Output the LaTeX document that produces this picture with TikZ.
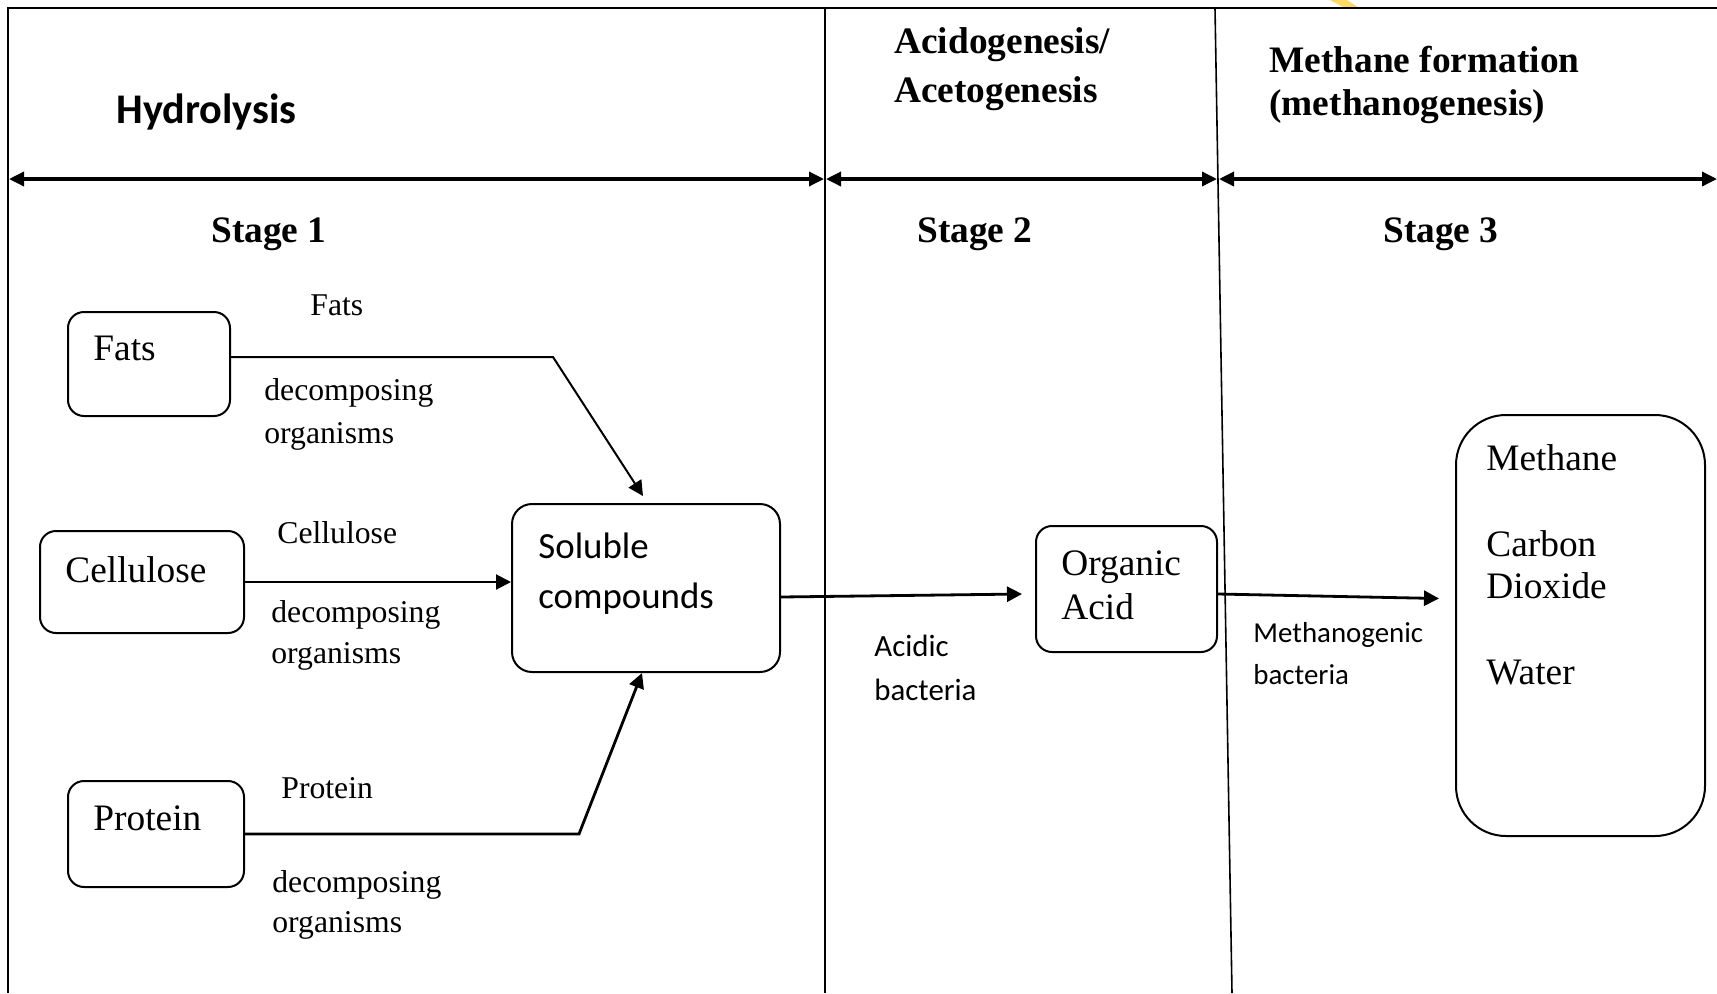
\documentclass[tikz,border=0pt]{standalone}
\usepackage{fontspec}
\setmainfont{Liberation Serif}
\newfontfamily\calfont{Carlito}
\usetikzlibrary{arrows.meta,fit}
\definecolor{wmyellow}{RGB}{255,217,102}
\begin{document}
\begin{tikzpicture}[x=0.5bp,y=-0.5bp,
  frame/.style={line width=0.8bp},
  dbl/.style={line width=1.7bp,{Triangle[length=7.5bp,width=7bp]}-{Triangle[length=7.5bp,width=7bp]}},
  conn/.style={line width=1bp,-{Triangle[length=7.5bp,width=7.5bp]}},
  boxs/.style={draw,line width=1bp,inner sep=0pt},
  headtxt/.style={font=\fontsize{18.75}{22}\selectfont\bfseries,anchor=base west,inner sep=0pt},
  hydtxt/.style={font=\calfont\fontsize{21.2}{24}\selectfont\bfseries,anchor=base west,inner sep=0pt},
  boxtxt/.style={font=\fontsize{18.75}{22}\selectfont,anchor=base west,inner sep=0pt},
  calbox/.style={font=\calfont\fontsize{18.5}{22}\selectfont,anchor=base west,inner sep=0pt},
  edgetxt/.style={font=\fontsize{15.9}{19}\selectfont,anchor=base west,inner sep=0pt},
  caledge/.style={font=\calfont\fontsize{15.5}{19}\selectfont,anchor=base west,inner sep=0pt},
  caledgesm/.style={font=\calfont\fontsize{14.5}{18}\selectfont,anchor=base west,inner sep=0pt}]
\useasboundingbox (0,0) rectangle (1717,993);

% watermark fragment
\fill[wmyellow] (1330,0) -- (1347,0) -- (1358,7) -- (1343,7) -- cycle;

% frame and dividers
\coordinate (tl) at (8,8);
\coordinate (tr) at (1717,8);
\coordinate (bl) at (8,993);
\coordinate (d1t) at (825,8);
\coordinate (d1b) at (825,993);
\coordinate (d2t) at (1215,8);
\coordinate (d2b) at (1232,993);
\draw[frame] (bl) -- (tl) -- (tr);
\draw[frame] (d1t) -- (d1b);
\draw[frame] (d2t) -- (d2b);

% stage arrows
\coordinate (a1l) at (9,179);
\coordinate (a1r) at (824,179);
\coordinate (a2l) at (826,179);
\coordinate (a2r) at (1217,179);
\coordinate (a3l) at (1219,179);
\coordinate (a3r) at (1717,179);
\draw[dbl] (a1l) -- (a1r);
\draw[dbl] (a2l) -- (a2r);
\draw[dbl] (a3l) -- (a3r);

% headings
\node[hydtxt] (hyd) at (116,123) {Hydrolysis};
\node[headtxt] (acid1) at (894,53) {Acidogenesis/};
\node[headtxt] (acid2) at (894,102) {Acetogenesis};
\node[headtxt] (meth1) at (1269,72) {Methane formation};
\node[headtxt] (meth2) at (1269,115) {(methanogenesis)};
\node[headtxt] (st1) at (211,242) {Stage 1};
\node[headtxt] (st2) at (917,242) {Stage 2};
\node[headtxt] (st3) at (1383,242) {Stage 3};

% boxes
\node[boxs,rounded corners=8bp,fit={(68,312) (230,416)}] (fats) {};
\node[boxs,rounded corners=8bp,fit={(40,531) (244,633)}] (cel) {};
\node[boxs,rounded corners=8bp,fit={(68,781) (244,887)}] (prot) {};
\node[boxs,rounded corners=10bp,fit={(512,504) (780,672)}] (sol) {};
\node[boxs,rounded corners=8bp,fit={(1036,526) (1217,652)}] (org) {};
\node[boxs,rounded corners=25bp,fit={(1456,415) (1705,836)}] (meth) {};

% box texts
\node[boxtxt] (tfats) at (93,360) {Fats};
\node[boxtxt] (tcel) at (65,582) {Cellulose};
\node[boxtxt] (tprot) at (93,830) {Protein};
\node[calbox] (tsol1) at (538,558) {Soluble};
\node[calbox] (tsol2) at (538,608) {compounds};
\node[boxtxt] (torg1) at (1061,575) {Organic};
\node[boxtxt] (torg2) at (1061,619) {Acid};
\node[boxtxt] (tm1) at (1486,470) {Methane};
\node[boxtxt] (tm2) at (1486,556) {Carbon};
\node[boxtxt] (tm3) at (1486,598) {Dioxide};
\node[boxtxt] (tm4) at (1486,684) {Water};

% edge labels
\node[edgetxt] (ef1) at (310,315) {Fats};
\node[edgetxt] (ef2) at (264,400) {decomposing};
\node[edgetxt] (ef3) at (264,443) {organisms};
\node[edgetxt] (ec1) at (277,543) {Cellulose};
\node[edgetxt] (ec2) at (271,622) {decomposing};
\node[edgetxt] (ec3) at (271,663) {organisms};
\node[edgetxt] (ep1) at (281,798) {Protein};
\node[edgetxt] (ep2) at (272,892) {decomposing};
\node[edgetxt] (ep3) at (272,932) {organisms};
\node[caledge] (ea1) at (874,656) {Acidic};
\node[caledge] (ea2) at (874,700) {bacteria};
\node[caledgesm] (em1) at (1253,642) {Methanogenic};
\node[caledgesm] (em2) at (1253,684) {bacteria};

% connectors
\draw[conn] ([yshift=3.5bp]fats.east) -- (553,357) -- ([xshift=-1.5bp,yshift=3.5bp]sol.north);
\draw[conn] (cel.east) -- (cel.east -| sol.west);
\draw[conn,line width=1.4bp] (prot.east) -- (579,834) -- ([xshift=-2bp]sol.south);
\draw[conn,line width=1.4bp] ([yshift=-4.5bp]sol.east) -- ([xshift=-6.5bp,yshift=-2.5bp]org.west);
\draw[conn,line width=1.4bp] ([yshift=-2.5bp]org.east) -- ([xshift=-8bp,yshift=13.5bp]meth.west);
\end{tikzpicture}
\end{document}
